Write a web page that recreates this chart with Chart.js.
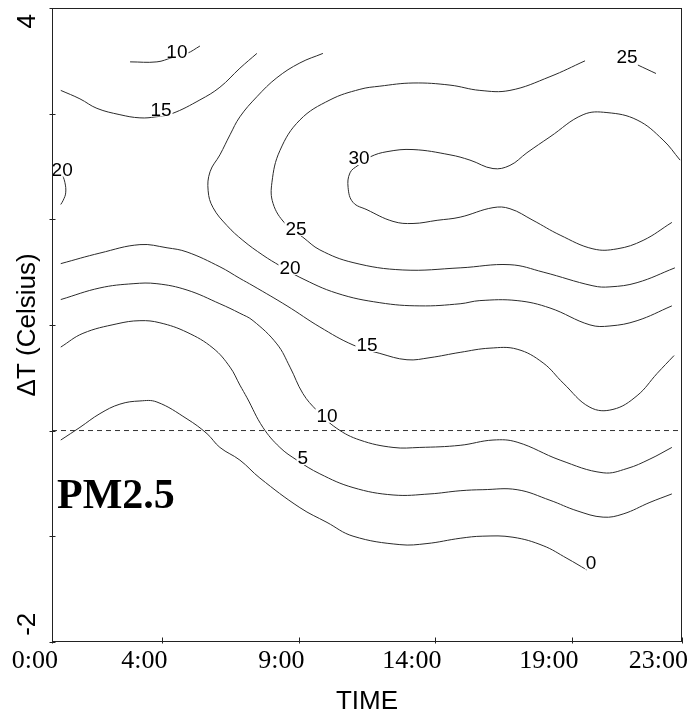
<!DOCTYPE html>
<html>
<head>
<meta charset="utf-8">
<script src="https://cdn.jsdelivr.net/npm/chart.js@4/dist/chart.umd.min.js"></script>
<style>
    body { margin: 0; background: #fff; }
</style>
</head>
<body>
<canvas id="chart" width="692" height="714"></canvas>
<script>
// PM2.5 contour lines, hour of day (x) vs ΔT in Celsius (y)
const xTickValues = [0, 4, 9, 14, 19, 23];
const xTickLabels = ['0:00', '4:00', '9:00', '14:00', '19:00', '23:00'];
const yTickValues = [-2, -1, 0, 1, 2, 3, 4];
const yLabelValues = [-2, 4];
const yLabelTexts = ['-2', '4'];

// each contour is a list of [hour, dT] points
const contour0 = [[0.32,-0.09],[1.02,0.03],[1.75,0.16],[2.48,0.25],[3.21,0.28],[3.83,0.27],[4.93,0.11],[5.66,-0.03],[6.13,-0.16],[6.86,-0.28],[7.59,-0.45],[9.05,-0.73],[10.04,-0.87],[10.99,-1.00],[12.70,-1.08],[13.69,-1.07],[14.90,-1.02],[15.73,-1.00],[16.83,-1.01],[17.93,-1.09],[18.80,-1.21],[19.53,-1.32]];
const contour5 = [[0.32,0.79],[1.13,0.92],[2.37,1.01],[3.21,1.04],[3.94,1.02],[4.93,0.93],[5.88,0.78],[6.50,0.60],[6.86,0.43],[7.12,0.31],[7.70,0.03],[8.32,-0.16],[8.94,-0.28],[9.78,-0.41],[10.99,-0.54],[12.45,-0.61],[13.80,-0.60],[14.90,-0.57],[15.73,-0.56],[16.98,-0.56],[18.18,-0.66],[19.17,-0.76],[20.12,-0.82],[20.85,-0.79],[21.83,-0.68],[22.63,-0.60]];
const contour10 = [[0.32,1.24],[1.75,1.35],[2.96,1.39],[3.83,1.39],[4.93,1.33],[6.13,1.20],[6.86,1.11],[7.34,1.04],[8.21,0.82],[8.69,0.60],[9.16,0.35],[9.67,0.19],[10.40,0.02],[11.24,-0.09],[12.45,-0.16],[13.43,-0.16],[14.90,-0.14],[16.10,-0.09],[16.98,-0.11],[18.55,-0.28],[20.12,-0.40],[20.99,-0.36],[21.83,-0.27],[22.63,-0.16]];
const contour10Top = [[2.85,3.49],[3.83,3.49],[4.38,3.53],[4.93,3.57],[5.40,3.64]];
const contour15 = [[0.32,1.58],[1.75,1.68],[3.21,1.76],[4.20,1.73],[4.93,1.69],[6.13,1.55],[6.86,1.44],[7.34,1.37],[8.58,1.18],[9.78,0.98],[10.99,0.81],[11.97,0.73],[12.96,0.67],[13.80,0.69],[14.90,0.74],[15.99,0.78],[16.98,0.77],[17.93,0.64],[18.66,0.45],[19.64,0.22],[20.48,0.20],[21.36,0.33],[22.09,0.54],[22.71,0.71]];
const contour15Top = [[0.32,3.22],[1.02,3.14],[1.64,3.05],[2.48,2.99],[3.21,2.96],[3.80,2.97],[4.38,3.00],[5.40,3.13],[6.13,3.25],[6.86,3.43],[7.48,3.57]];
const contour20 = [[9.89,3.57],[9.05,3.48],[8.21,3.34],[7.48,3.16],[6.86,2.97],[6.50,2.80],[6.13,2.61],[5.77,2.45],[5.70,2.27],[5.88,2.11],[6.39,1.94],[6.97,1.80],[7.70,1.66],[8.32,1.56],[9.05,1.45],[10.40,1.30],[11.97,1.21],[13.43,1.18],[14.90,1.20],[15.62,1.23],[16.98,1.23],[18.18,1.16],[19.64,1.00],[20.37,0.99],[21.36,1.04],[22.63,1.18]];
const contour20Left = [[0.35,2.44],[0.47,2.35],[0.50,2.25],[0.41,2.18],[0.32,2.14]];
const contour25 = [[19.46,3.50],[18.18,3.35],[16.72,3.22],[15.62,3.22],[14.53,3.27],[13.18,3.29],[11.97,3.26],[11.24,3.23],[10.15,3.13],[9.05,2.94],[8.32,2.65],[8.03,2.35],[8.07,2.15],[8.51,1.96],[9.16,1.83],[9.78,1.71],[10.99,1.59],[12.81,1.52],[14.90,1.54],[16.72,1.57],[17.93,1.50],[19.75,1.37],[20.37,1.36],[21.36,1.40],[22.74,1.54]];
const contour25Corner = [[21.39,3.46],[22.05,3.38]];
const contour30 = [[22.93,2.56],[22.31,2.75],[21.36,2.94],[20.26,3.01],[19.39,2.99],[18.18,2.78],[17.34,2.63],[16.72,2.51],[16.10,2.48],[15.26,2.56],[14.53,2.61],[13.18,2.66],[12.23,2.64],[11.61,2.59],[11.17,2.51],[10.88,2.44],[10.81,2.30],[10.99,2.16],[11.50,2.09],[12.45,1.98],[13.18,1.96],[14.06,1.99],[14.90,2.02],[16.10,2.11],[16.72,2.10],[17.56,1.99],[18.55,1.85],[19.75,1.72],[20.63,1.72],[21.58,1.80],[22.63,1.97]];
const zeroLine = [[0, 0], [23, 0]];

// contour level labels and where they sit
const labelTexts = ['10', '15', '20', '30', '25', '20', '15', '10', '5', '0', '25'];
const labelHours = [4.56, 3.98, 0.37, 11.21, 8.91, 8.69, 11.50, 10.04, 9.16, 19.68, 20.99];
const labelDT = [3.59, 3.04, 2.47, 2.58, 1.91, 1.54, 0.81, 0.14, -0.26, -1.25, 3.54];

const contours = [contour0, contour5, contour10, contour10Top, contour15, contour15Top,
    contour20, contour20Left, contour25, contour25Corner, contour30];

const toXY = pts => pts.map(p => ({ x: p[0], y: p[1] }));

const datasets = contours.map(c => ({
    data: toXY(c),
    borderColor: '#2a2a2a',
    borderWidth: 1,
    pointRadius: 0,
    tension: 0.4,
    fill: false
}));
datasets.push({
    data: toXY(zeroLine),
    borderColor: '#333',
    borderWidth: 1,
    borderDash: [5, 4],
    pointRadius: 0,
    fill: false
});

const decor = {
    id: 'decor',
    afterDatasetsDraw(chart) {
        const ctx = chart.ctx;
        const { left, right, top, bottom } = chart.chartArea;
        const xs = chart.scales.x;
        const ys = chart.scales.y;
        ctx.save();

        // contour labels
        ctx.font = '19px "Liberation Sans", Arial, sans-serif';
        ctx.textAlign = 'center';
        ctx.textBaseline = 'middle';
        labelTexts.forEach((t, i) => {
            const px = xs.getPixelForValue(labelHours[i]);
            const py = ys.getPixelForValue(labelDT[i]);
            const w = ctx.measureText(t).width;
            ctx.fillStyle = '#fff';
            ctx.fillRect(px - w / 2 - 1, py - 7, w + 2, 14);
            ctx.fillStyle = '#000';
            ctx.fillText(t, px, py + 1);
        });

        // frame
        ctx.strokeStyle = '#222';
        ctx.lineWidth = 1;
        const l = Math.round(left) + 0.5, r = Math.round(right) - 0.5;
        const t = Math.round(top) + 0.5, b = Math.round(bottom) - 0.5;
        ctx.strokeRect(l, t, r - l, b - t);

        // inside tick marks
        ctx.beginPath();
        xs.ticks.forEach(tk => {
            const px = Math.round(xs.getPixelForValue(tk.value)) + 0.5;
            ctx.moveTo(px, b - 4);
            ctx.lineTo(px, b + 2);
        });
        ys.ticks.forEach(tk => {
            const py = Math.round(ys.getPixelForValue(tk.value)) + 0.5;
            ctx.moveTo(l - 3, py);
            ctx.lineTo(l + 3, py);
        });
        ctx.stroke();

        // y tick labels, rotated and kept inside the axis ends
        ctx.fillStyle = '#000';
        ctx.font = '26px "Liberation Sans", Arial, sans-serif';
        ctx.textBaseline = 'middle';
        yLabelValues.forEach((v, i) => {
            const atTop = v === ys.max;
            const py = ys.getPixelForValue(v) + (atTop ? 6 : -6);
            ctx.save();
            ctx.translate(28, py);
            ctx.rotate(-Math.PI / 2);
            ctx.textAlign = atTop ? 'right' : 'left';
            ctx.fillText(yLabelTexts[i], 0, 0);
            ctx.restore();
        });

        // y axis title
        ctx.save();
        ctx.translate(28, (top + bottom) / 2);
        ctx.rotate(-Math.PI / 2);
        ctx.textAlign = 'center';
        ctx.fillText('ΔT (Celsius)', 0, 0);
        ctx.restore();

        // panel tag
        ctx.font = 'bold 42px "Liberation Serif", "Times New Roman", serif';
        ctx.textAlign = 'left';
        ctx.textBaseline = 'alphabetic';
        ctx.fillText('PM2.5', left + 5, ys.getPixelForValue(-0.73));

        ctx.restore();
    }
};

new Chart(document.getElementById('chart'), {
    type: 'line',
    data: { datasets },
    options: {
        responsive: false,
        animation: false,
        layout: { padding: { left: 52, right: 10, top: 8, bottom: -1 } },
        plugins: { legend: { display: false }, tooltip: { enabled: false } },
        scales: {
            x: {
                type: 'linear',
                min: 0,
                max: 23,
                afterBuildTicks: s => { s.ticks = xTickValues.map(v => ({ value: v })); },
                grid: { display: false, drawTicks: false },
                border: { display: false },
                ticks: {
                    align: 'end',
                    labelOffset: 6,
                    padding: 4,
                    color: '#000',
                    font: { family: '"Liberation Serif", "Times New Roman", serif', size: 26 },
                    callback: v => xTickLabels[xTickValues.indexOf(v)]
                },
                title: {
                    display: true,
                    text: 'TIME',
                    color: '#000',
                    font: { family: '"Liberation Sans", Arial, sans-serif', size: 26, lineHeight: 1 },
                    padding: { top: 8, bottom: 0 }
                }
            },
            y: {
                type: 'linear',
                min: -2,
                max: 4,
                afterBuildTicks: s => { s.ticks = yTickValues.map(v => ({ value: v })); },
                grid: { display: false, drawTicks: false },
                border: { display: false },
                ticks: { display: false }
            }
        }
    },
    plugins: [decor]
});
</script>
</body>
</html>
